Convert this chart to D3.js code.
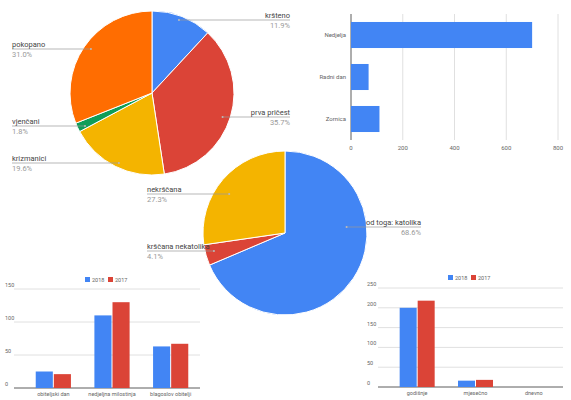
<!DOCTYPE html>
<html><head><meta charset="utf-8">
<script src="https://cdn.jsdelivr.net/npm/d3@7"></script>
<style>body{margin:0;background:#fff}svg{font-family:Roboto,sans-serif}</style>
</head><body>
<svg id="c" width="571" height="400"></svg>
<script>
// pie 1
const pie1Labels = ["kršteno", "prva pričest", "krizmanici", "vjenčani", "pokopano"];
const pie1Values = [11.9, 35.7, 19.6, 1.8, 31.0];
const pie1Colors = ["#4285f4", "#db4437", "#f4b400", "#0f9d58", "#ff6d01"];
// pie 2
const pie2Labels = ["od toga: katolika", "krščana nekatolika", "nekrščana"];
const pie2Values = [68.6, 4.1, 27.3];
const pie2Colors = ["#4285f4", "#db4437", "#f4b400"];
// horizontal bars
const hbarCats = ["Nedjelja", "Radni dan", "Zornica"];
const hbarValues = [700, 68, 110];
const hbarTicks = [0, 200, 400, 600, 800];
// grouped bars
const years = ["2018", "2017"];
const g1Cats = ["obiteljski dan", "nedjeljna milostinja", "blagoslov obitelji"];
const g1_2018 = [25, 110, 63];
const g1_2017 = [21, 130, 67];
const g2Cats = ["godišnje", "mjesečno", "dnevno"];
const g2_2018 = [200, 16, 0];
const g2_2017 = [218, 18, 0];

const blue = "#4285f4", red = "#db4437";
const svg = d3.select("#c");

function drawPie(cx, cy, r, values, colors, labels) {
  const arcs = d3.pie().sort(null)(values);
  const arc = d3.arc().innerRadius(0).outerRadius(r);
  const g = svg.append("g").attr("transform", `translate(${cx},${cy})`);
  g.selectAll("path").data(arcs).enter().append("path")
    .attr("d", arc).attr("fill", (d, i) => colors[i])
    .attr("stroke", "#fff").attr("stroke-width", 1);
  labels.forEach(l => {
    const a = arcs[l.i];
    const [px, py] = d3.arc().innerRadius(r * 0.9).outerRadius(r * 0.9).centroid(a);
    const x0 = cx + px, y0 = cy + py;
    svg.append("line").attr("x1", x0).attr("y1", l.ly).attr("x2", l.tx).attr("y2", l.ly)
      .attr("stroke", "#999").attr("stroke-width", 0.7);
    svg.append("circle").attr("cx", x0).attr("cy", l.ly).attr("r", 1).attr("fill", "#bbb");
    const anchor = l.right ? "end" : "start";
    svg.append("text").attr("x", l.tx).attr("y", l.ly - 2).attr("text-anchor", anchor)
      .attr("font-size", 7.5).attr("fill", "#444").text(l.name);
    svg.append("text").attr("x", l.tx).attr("y", l.ly + 8).attr("text-anchor", anchor)
      .attr("font-size", 7.5).attr("fill", "#999").text(values[l.i].toFixed(1) + "%");
  });
}

drawPie(152, 93, 82, pie1Values, pie1Colors, [
  { i: 0, name: pie1Labels[0], tx: 290, ly: 20, right: true },
  { i: 1, name: pie1Labels[1], tx: 290, ly: 117, right: true },
  { i: 2, name: pie1Labels[2], tx: 12, ly: 163 },
  { i: 3, name: pie1Labels[3], tx: 12, ly: 126 },
  { i: 4, name: pie1Labels[4], tx: 12, ly: 49 }
]);

// horizontal bar chart
{
  const x = d3.scaleLinear().domain([0, 800]).range([351, 558]);
  const y = d3.scaleBand().domain(hbarCats).range([14, 140]).paddingInner(0.38).paddingOuter(0.19);
  svg.append("g").selectAll("line").data(hbarTicks).enter().append("line")
    .attr("x1", d => x(d)).attr("x2", d => x(d)).attr("y1", 14).attr("y2", 140)
    .attr("stroke", d => d === 0 ? "#333" : "#e0e0e0").attr("stroke-width", d => d === 0 ? 0.8 : 1);
  svg.append("g").selectAll("rect").data(hbarValues).enter().append("rect")
    .attr("x", x(0)).attr("y", (d, i) => y(hbarCats[i])).attr("width", d => x(d) - x(0))
    .attr("height", y.bandwidth()).attr("fill", blue);
  svg.append("g").selectAll("text").data(hbarTicks).enter().append("text")
    .attr("x", d => x(d)).attr("y", 150).attr("text-anchor", "middle")
    .attr("font-size", 6).attr("fill", "#666").text(d => d);
  svg.append("g").selectAll("text").data(hbarCats).enter().append("text")
    .attr("x", 346).attr("y", d => y(d) + y.bandwidth() / 2 + 2).attr("text-anchor", "end")
    .attr("font-size", 6).attr("fill", "#666").text(d => d);
}

function drawGrouped(cfg) {
  const { x0, x1, yTop, yBot, max, ticks, cats, a, b, legX, legY, labelX } = cfg;
  const y = d3.scaleLinear().domain([0, max]).range([yBot, yTop]);
  const xb = d3.scaleBand().domain(cats).range([x0, x1]).paddingInner(0.4).paddingOuter(0.2);
  const xs = d3.scaleBand().domain(years).range([0, xb.bandwidth()]);
  svg.append("g").selectAll("line").data(ticks).enter().append("line")
    .attr("x1", x0 - 10).attr("x2", x1).attr("y1", d => y(d)).attr("y2", d => y(d))
    .attr("stroke", d => d === 0 ? "#333" : "#e0e0e0").attr("stroke-width", d => d === 0 ? 0.8 : 1);
  svg.append("g").selectAll("text").data(ticks).enter().append("text")
    .attr("x", labelX).attr("y", d => y(d) - 2).attr("font-size", 5.5).attr("fill", "#666").text(d => d);
  [a, b].forEach((vals, k) => {
    svg.append("g").selectAll("rect").data(vals).enter().append("rect")
      .attr("x", (d, i) => xb(cats[i]) + xs(years[k]) + (k ? 0.5 : 0))
      .attr("y", d => y(d)).attr("width", xs.bandwidth() - 0.5)
      .attr("height", d => yBot - y(d)).attr("fill", k ? red : blue);
  });
  svg.append("g").selectAll("text").data(cats).enter().append("text")
    .attr("x", d => xb(d) + xb.bandwidth() / 2).attr("y", yBot + 8).attr("text-anchor", "middle")
    .attr("font-size", 5.5).attr("fill", "#666").text(d => d);
  years.forEach((yr, k) => {
    svg.append("rect").attr("x", legX + k * 23).attr("y", legY - 4).attr("width", 5).attr("height", 5)
      .attr("fill", k ? red : blue);
    svg.append("text").attr("x", legX + k * 23 + 7).attr("y", legY + 1).attr("font-size", 5.5)
      .attr("fill", "#666").text(yr);
  });
}

drawGrouped({ x0: 24, x1: 200, yTop: 289, yBot: 388, max: 150, ticks: [0, 50, 100, 150],
  cats: g1Cats, a: g1_2018, b: g1_2017, legX: 85, legY: 281, labelX: 5 });
drawGrouped({ x0: 388, x1: 563, yTop: 288, yBot: 387, max: 250, ticks: [0, 50, 100, 150, 200, 250],
  cats: g2Cats, a: g2_2018, b: g2_2017, legX: 448, legY: 279, labelX: 367 });

drawPie(285, 233, 82, pie2Values, pie2Colors, [
  { i: 0, name: pie2Labels[0], tx: 421, ly: 227, right: true },
  { i: 1, name: pie2Labels[1], tx: 147, ly: 251 },
  { i: 2, name: pie2Labels[2], tx: 147, ly: 194 }
]);
</script>
</body></html>
